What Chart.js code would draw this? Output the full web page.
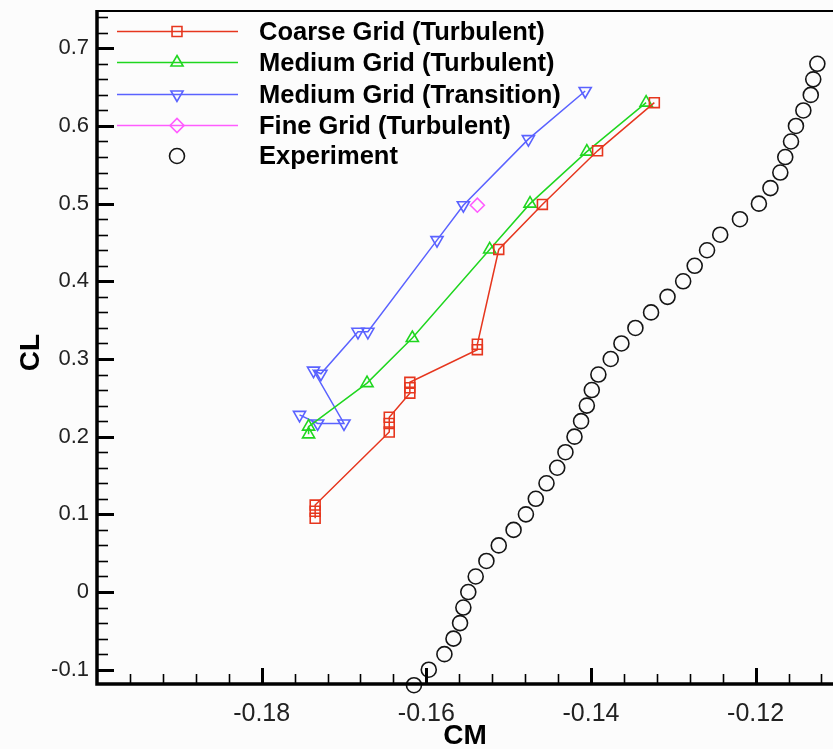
<!DOCTYPE html>
<html>
<head>
<meta charset="utf-8">
<script src="https://cdn.jsdelivr.net/npm/chart.js@4.4.0/dist/chart.umd.min.js"></script>
<style>
  html, body { margin: 0; padding: 0; background: #fcfcfc; }
  #wrap { width: 833px; height: 749px; }
</style>
</head>
<body>
<div id="wrap"><canvas id="chart" width="833" height="749"></canvas></div>
<script>
// values
const coarseCM = [-0.1323, -0.1392, -0.1459, -0.1512, -0.1538, -0.1538, -0.1620, -0.1620, -0.1620, -0.1645, -0.1645, -0.1645, -0.1735, -0.1735, -0.1735];
const coarseCL = [0.630, 0.568, 0.499, 0.441, 0.319, 0.312, 0.270, 0.263, 0.256, 0.225, 0.217, 0.206, 0.112, 0.104, 0.095];

const medTurbCM = [-0.1333, -0.1405, -0.1474, -0.1523, -0.1617, -0.1672, -0.1743, -0.1743];
const medTurbCL = [0.630, 0.567, 0.500, 0.441, 0.327, 0.269, 0.213, 0.203];

const medTransCM = [-0.1407, -0.1476, -0.1555, -0.1587, -0.1671, -0.1683, -0.1728, -0.1737, -0.1700, -0.1732, -0.1754];
const medTransCL = [0.645, 0.583, 0.498, 0.453, 0.335, 0.335, 0.281, 0.285, 0.217, 0.217, 0.228];

const fineCM = [-0.1538];
const fineCL = [0.498];

const expCM = [-0.1125, -0.1130, -0.1133, -0.1142, -0.1151, -0.1157, -0.1164, -0.1170, -0.1182, -0.1196,
               -0.1219, -0.1243, -0.1259, -0.1274, -0.1288, -0.1307, -0.1327, -0.1346, -0.1363, -0.1376,
               -0.1391, -0.1399, -0.1405, -0.1412, -0.1420, -0.1431, -0.1441, -0.1454, -0.1467, -0.1479,
               -0.1494, -0.1512, -0.1527, -0.1540, -0.1549, -0.1555, -0.1559, -0.1567, -0.1578, -0.1597, -0.1615];
const expCL = [0.68, 0.66, 0.64, 0.62, 0.60, 0.58, 0.56, 0.54, 0.52, 0.50,
               0.48, 0.46, 0.44, 0.42, 0.40, 0.38, 0.36, 0.34, 0.32, 0.30,
               0.28, 0.26, 0.24, 0.22, 0.20, 0.18, 0.16, 0.14, 0.12, 0.10,
               0.08, 0.06, 0.04, 0.02, 0.00, -0.02, -0.04, -0.06, -0.08, -0.10, -0.12];

const xTickValues = [-0.18, -0.16, -0.14, -0.12];
const yTickValues = [-0.1, 0, 0.1, 0.2, 0.3, 0.4, 0.5, 0.6, 0.7];

const RED = '#e6361e', GREEN = '#1fd61f', BLUE = '#5a62ff', PINK = '#ff5cff', BLACK = '#151515';

function pts(xs, ys) {
  return xs.map((x, i) => ({ x: x, y: ys[i] }));
}

function series(label, xs, ys, color, style, rot, line) {
  return {
    label: label,
    data: pts(xs, ys),
    showLine: line,
    borderColor: color,
    borderWidth: 1.5,
    pointStyle: style,
    pointRotation: rot,
    pointRadius: style === 'circle' ? 7.5 : 7,
    pointBorderWidth: 1.6,
    pointBorderColor: color,
    pointBackgroundColor: 'rgba(0,0,0,0)',
    clip: false
  };
}

// frame, inward ticks, axis titles and the line+marker legend
const tecplotLook = {
  id: 'tecplotLook',
  afterDraw(chart) {
    const ctx = chart.ctx;
    const a = chart.chartArea;
    const xs = chart.scales.x, ys = chart.scales.y;
    ctx.save();
    ctx.strokeStyle = '#000';
    ctx.lineCap = 'butt';

    // y ticks
    for (let v = -0.1; v <= 0.745; v += 0.02) {
      const y = Math.round(ys.getPixelForValue(v)) + 0.5;
      const major = Math.abs(v * 10 - Math.round(v * 10)) < 1e-6;
      ctx.lineWidth = major ? 3 : 1.6;
      ctx.beginPath();
      ctx.moveTo(a.left, y);
      ctx.lineTo(a.left + (major ? 17 : 11), y);
      ctx.stroke();
    }
    // x ticks
    for (let v = -0.196; v <= -0.111; v += 0.004) {
      const x = Math.round(xs.getPixelForValue(v)) + 0.5;
      const major = Math.abs(v * 50 - Math.round(v * 50)) < 1e-6;
      ctx.lineWidth = major ? 3 : 1.6;
      ctx.beginPath();
      ctx.moveTo(x, a.bottom);
      ctx.lineTo(x, a.bottom - (major ? 16 : 10));
      ctx.stroke();
    }

    // frame
    ctx.lineWidth = 2;
    ctx.beginPath();
    ctx.moveTo(a.left, a.top);
    ctx.lineTo(a.right, a.top);
    ctx.stroke();
    ctx.lineWidth = 3.5;
    ctx.beginPath();
    ctx.moveTo(a.left, a.top - 1);
    ctx.lineTo(a.left, a.bottom);
    ctx.lineTo(a.right, a.bottom);
    ctx.stroke();

    // axis titles
    ctx.fillStyle = '#000';
    ctx.font = 'bold 28px "Liberation Sans", Arial, sans-serif';
    ctx.textAlign = 'center';
    ctx.textBaseline = 'middle';
    ctx.fillText('CM', (a.left + a.right) / 2, 736);
    ctx.save();
    ctx.translate(31, (a.top + a.bottom) / 2 + 5);
    ctx.rotate(-Math.PI / 2);
    ctx.fillText('CL', 0, 0);
    ctx.restore();

    // legend
    const rows = [31.5, 62.5, 94.5, 125.5, 156];
    ctx.font = 'bold 25.5px "Liberation Sans", Arial, sans-serif';
    ctx.textAlign = 'left';
    chart.data.datasets.forEach((ds, i) => {
      const y = rows[i];
      if (ds.showLine) {
        ctx.strokeStyle = ds.borderColor;
        ctx.lineWidth = 1.5;
        ctx.beginPath();
        ctx.moveTo(117, y);
        ctx.lineTo(238, y);
        ctx.stroke();
      }
      ctx.strokeStyle = ds.pointBorderColor;
      ctx.fillStyle = 'rgba(0,0,0,0)';
      ctx.lineWidth = ds.pointBorderWidth;
      Chart.helpers.drawPoint(ctx, {
        pointStyle: ds.pointStyle,
        rotation: ds.pointRotation,
        radius: ds.pointRadius,
        borderWidth: ds.pointBorderWidth
      }, 177, y);
      ctx.fillStyle = '#000';
      ctx.fillText(ds.label, 259, y + 1);
    });
    ctx.restore();
  }
};

const chart = new Chart(document.getElementById('chart'), {
  type: 'scatter',
  data: {
    datasets: [
      series('Coarse Grid (Turbulent)', coarseCM, coarseCL, RED, 'rect', 0, true),
      series('Medium Grid (Turbulent)', medTurbCM, medTurbCL, GREEN, 'triangle', 0, true),
      series('Medium Grid (Transition)', medTransCM, medTransCL, BLUE, 'triangle', 180, true),
      series('Fine Grid (Turbulent)', fineCM, fineCL, PINK, 'rectRot', 0, true),
      series('Experiment', expCM, expCL, BLACK, 'circle', 0, false)
    ]
  },
  options: {
    responsive: false,
    animation: false,
    layout: { autoPadding: false, padding: { top: 11, left: 0, right: 0, bottom: 0 } },
    plugins: { legend: { display: false }, tooltip: { enabled: false } },
    scales: {
      x: {
        type: 'linear',
        min: -0.2,
        max: -0.1106,
        grid: { display: false, drawTicks: false },
        border: { display: false },
        afterBuildTicks: s => { s.ticks = xTickValues.map(v => ({ value: v })); },
        afterFit: s => { s.height = 65; s.paddingLeft = 0; s.paddingRight = 0; },
        ticks: {
          padding: 15,
          color: '#222',
          font: { family: '"Liberation Sans", Arial, sans-serif', size: 25 },
          callback: v => String(+v.toFixed(2))
        }
      },
      y: {
        type: 'linear',
        min: -0.1184,
        max: 0.748,
        grid: { display: false, drawTicks: false },
        border: { display: false },
        afterBuildTicks: s => { s.ticks = yTickValues.map(v => ({ value: v })); },
        afterFit: s => { s.width = 97; s.paddingTop = 0; s.paddingBottom = 0; },
        ticks: {
          padding: 8,
          color: '#222',
          font: { family: '"Liberation Sans", Arial, sans-serif', size: 22 },
          callback: v => String(+v.toFixed(1))
        }
      }
    }
  },
  plugins: [tecplotLook]
});
</script>
</body>
</html>
